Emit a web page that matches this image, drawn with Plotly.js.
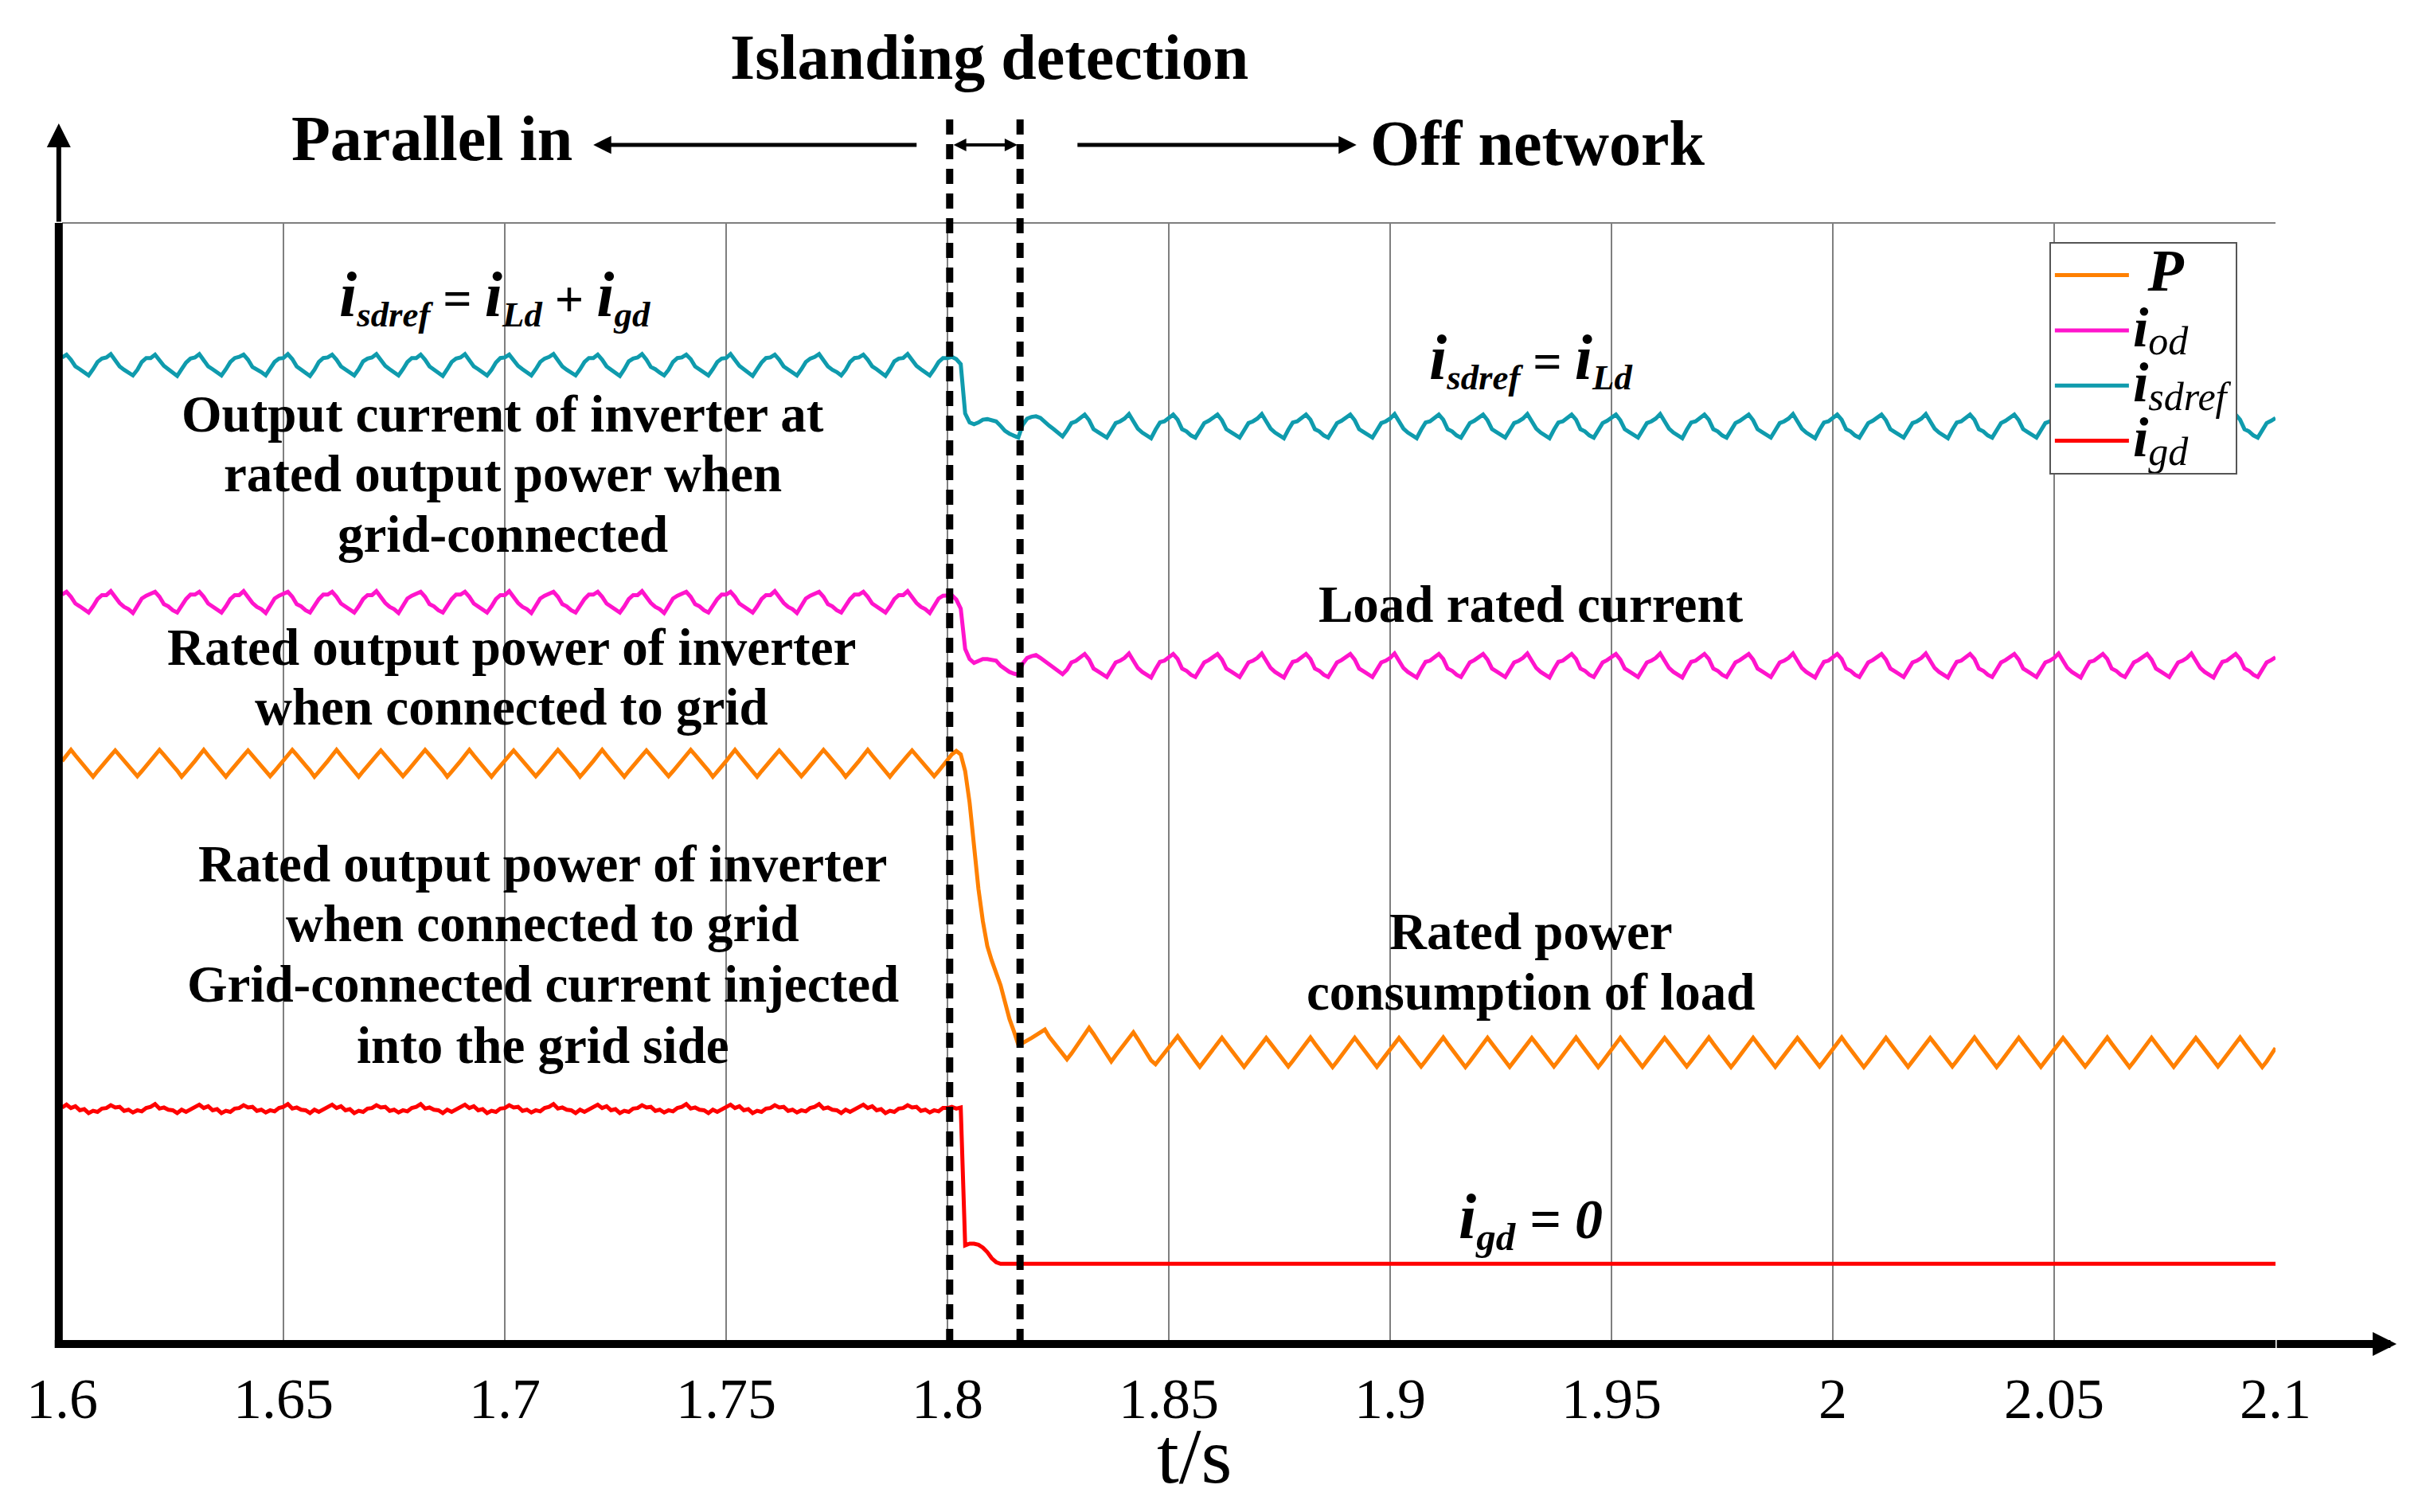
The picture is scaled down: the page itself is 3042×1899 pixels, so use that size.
<!DOCTYPE html>
<html>
<head>
<meta charset="utf-8">
<script src="https://cdn.plot.ly/plotly-3.0.1.min.js"></script>
<style>html,body{margin:0;padding:0;background:#fff;}#chart{width:3042px;height:1899px;}</style>
</head>
<body>
<div id="chart"></div>
<script>
// ---------- time grid ----------
const tStart = 1.6;      // s
const tStep = 0.001;     // s, sampling interval of the series below

// ---------- x-axis ticks ----------
const tickValues = [1.6, 1.65, 1.7, 1.75, 1.8, 1.85, 1.9, 1.95, 2, 2.05, 2.1];
const tickLabels = ['1.6', '1.65', '1.7', '1.75', '1.8', '1.85', '1.9', '1.95', '2', '2.05', '2.1'];

// ---------- event times ----------
const islandingStart = 1.8005;
const islandingEnd = 1.8164;

// ---------- series (one row = 10 ms) ----------
// isdref : 1.600 ... 2.100
const isdref = [
88.0,88.25,87.8,87.2,86.95,86.7,86.4,86.95,87.6,87.9,
88.0,88.3,87.75,87.2,86.9,86.65,86.4,86.9,87.6,87.95,
87.95,88.25,87.8,87.25,86.95,86.7,86.35,86.95,87.55,87.9,
88.0,88.3,87.8,87.2,86.95,86.65,86.4,86.95,87.6,87.95,
88.05,88.25,87.8,87.15,86.95,86.7,86.4,87.0,87.6,87.9,
87.95,88.3,87.85,87.2,86.9,86.7,86.35,86.9,87.6,87.95,
88.0,88.25,87.8,87.2,86.95,86.65,86.4,86.95,87.65,87.9,
88.0,88.3,87.75,87.25,86.95,86.7,86.4,86.95,87.6,87.95,
87.95,88.25,87.8,87.2,86.9,86.65,86.35,86.95,87.6,87.9,
88.0,88.3,87.8,87.2,86.95,86.7,86.4,86.9,87.55,87.95,
88.0,88.25,87.8,87.25,86.95,86.7,86.4,86.95,87.6,87.9,
88.05,88.3,87.75,87.2,86.9,86.65,86.4,86.95,87.6,87.95,
87.95,88.25,87.8,87.2,86.95,86.7,86.35,86.95,87.65,87.9,
88.0,88.3,87.8,87.15,86.95,86.65,86.4,86.9,87.6,87.95,
88.0,88.25,87.85,87.2,86.9,86.7,86.4,86.95,87.6,87.9,
87.95,88.3,87.8,87.25,86.95,86.7,86.35,86.95,87.55,87.95,
88.0,88.25,87.8,87.2,86.95,86.65,86.4,86.95,87.6,87.9,
88.05,88.3,87.75,87.2,86.9,86.7,86.4,86.9,87.6,87.95,
88.0,88.25,87.8,87.2,86.95,86.65,86.35,86.95,87.65,87.9,
87.95,88.3,87.8,87.25,86.95,86.7,86.4,86.95,87.6,87.95,
87.95,88.05,87.85,87.4,83.0,82.2,82.05,82.2,82.45,82.5,
82.4,82.3,81.9,81.45,81.2,81.0,80.85,82.0,82.55,82.7,
82.75,82.6,82.2,81.9,81.6,81.25,80.95,81.5,82.15,82.3,
82.6,82.9,82.4,81.6,81.35,81.05,80.85,81.5,82.15,82.3,
82.55,82.95,82.35,81.65,81.3,81.0,80.8,81.55,82.2,82.3,
82.65,82.9,82.45,81.6,81.4,81.05,80.85,81.45,82.15,82.35,
82.6,82.9,82.4,81.6,81.35,81.05,80.85,81.5,82.15,82.3,
82.55,82.95,82.35,81.65,81.3,81.0,80.8,81.55,82.2,82.3,
82.65,82.9,82.45,81.6,81.4,81.05,80.85,81.45,82.15,82.35,
82.6,82.9,82.4,81.6,81.35,81.05,80.85,81.5,82.15,82.3,
82.55,82.95,82.35,81.65,81.3,81.0,80.8,81.55,82.2,82.3,
82.65,82.9,82.45,81.6,81.4,81.05,80.85,81.45,82.15,82.35,
82.6,82.9,82.4,81.6,81.35,81.05,80.85,81.5,82.15,82.3,
82.55,82.95,82.35,81.65,81.3,81.0,80.8,81.55,82.2,82.3,
82.65,82.9,82.45,81.6,81.4,81.05,80.85,81.45,82.15,82.35,
82.6,82.9,82.4,81.6,81.35,81.05,80.85,81.5,82.15,82.3,
82.55,82.95,82.35,81.65,81.3,81.0,80.8,81.55,82.2,82.3,
82.65,82.9,82.45,81.6,81.4,81.05,80.85,81.45,82.15,82.35,
82.6,82.9,82.4,81.6,81.35,81.05,80.85,81.5,82.15,82.3,
82.55,82.95,82.35,81.65,81.3,81.0,80.8,81.55,82.2,82.3,
82.65,82.9,82.45,81.6,81.4,81.05,80.85,81.45,82.15,82.35,
82.6,82.9,82.4,81.6,81.35,81.05,80.85,81.5,82.15,82.3,
82.55,82.95,82.35,81.65,81.3,81.0,80.8,81.55,82.2,82.3,
82.65,82.9,82.45,81.6,81.4,81.05,80.85,81.45,82.15,82.35,
82.6,82.9,82.4,81.6,81.35,81.05,80.85,81.5,82.15,82.3,
82.55,82.95,82.35,81.65,81.3,81.0,80.8,81.55,82.2,82.3,
82.65,82.9,82.45,81.6,81.4,81.05,80.85,81.45,82.15,82.35,
82.6,82.9,82.4,81.6,81.35,81.05,80.85,81.5,82.15,82.3,
82.55,82.95,82.35,81.65,81.3,81.0,80.8,81.55,82.2,82.3,
82.65,82.9,82.45,81.6,81.4,81.05,80.85,81.45,82.15,82.35,
82.6
];

// iod : 1.600 ... 2.100
const iod = [
66.85,67.1,66.65,66.05,65.8,65.5,65.25,65.8,66.45,66.8,
66.8,67.15,66.6,66.1,65.75,65.55,65.2,65.8,66.5,66.75,
66.9,67.1,66.65,66.0,65.8,65.45,65.25,65.85,66.45,66.85,
66.85,67.1,66.65,66.05,65.8,65.5,65.25,65.8,66.45,66.8,
66.8,67.15,66.6,66.1,65.75,65.55,65.2,65.8,66.5,66.75,
66.9,67.1,66.65,66.0,65.8,65.45,65.25,65.85,66.45,66.85,
66.85,67.1,66.65,66.05,65.8,65.5,65.25,65.8,66.45,66.8,
66.8,67.15,66.6,66.1,65.75,65.55,65.2,65.8,66.5,66.75,
66.9,67.1,66.65,66.0,65.8,65.45,65.25,65.85,66.45,66.85,
66.85,67.1,66.65,66.05,65.8,65.5,65.25,65.8,66.45,66.8,
66.8,67.15,66.6,66.1,65.75,65.55,65.2,65.8,66.5,66.75,
66.9,67.1,66.65,66.0,65.8,65.45,65.25,65.85,66.45,66.85,
66.85,67.1,66.65,66.05,65.8,65.5,65.25,65.8,66.45,66.8,
66.8,67.15,66.6,66.1,65.75,65.55,65.2,65.8,66.5,66.75,
66.9,67.1,66.65,66.0,65.8,65.45,65.25,65.85,66.45,66.85,
66.85,67.1,66.65,66.05,65.8,65.5,65.25,65.8,66.45,66.8,
66.8,67.15,66.6,66.1,65.75,65.55,65.2,65.8,66.5,66.75,
66.9,67.1,66.65,66.0,65.8,65.45,65.25,65.85,66.45,66.85,
66.85,67.1,66.65,66.05,65.8,65.5,65.25,65.8,66.45,66.8,
66.8,67.15,66.6,66.1,65.75,65.55,65.2,65.8,66.5,66.75,
66.8,66.8,66.4,65.6,62.0,61.1,60.75,60.9,61.1,61.1,
61.0,60.95,60.5,60.2,59.95,59.8,59.7,60.7,61.2,61.35,
61.45,61.2,60.9,60.6,60.3,60.0,59.75,60.15,60.8,60.95,
61.25,61.55,61.05,60.25,60.0,59.7,59.5,60.15,60.8,60.95,
61.2,61.6,61.0,60.3,59.95,59.65,59.45,60.2,60.85,60.95,
61.3,61.55,61.1,60.25,60.05,59.7,59.5,60.1,60.8,61.0,
61.25,61.55,61.05,60.25,60.0,59.7,59.5,60.15,60.8,60.95,
61.2,61.6,61.0,60.3,59.95,59.65,59.45,60.2,60.85,60.95,
61.3,61.55,61.1,60.25,60.05,59.7,59.5,60.1,60.8,61.0,
61.25,61.55,61.05,60.25,60.0,59.7,59.5,60.15,60.8,60.95,
61.2,61.6,61.0,60.3,59.95,59.65,59.45,60.2,60.85,60.95,
61.3,61.55,61.1,60.25,60.05,59.7,59.5,60.1,60.8,61.0,
61.25,61.55,61.05,60.25,60.0,59.7,59.5,60.15,60.8,60.95,
61.2,61.6,61.0,60.3,59.95,59.65,59.45,60.2,60.85,60.95,
61.3,61.55,61.1,60.25,60.05,59.7,59.5,60.1,60.8,61.0,
61.25,61.55,61.05,60.25,60.0,59.7,59.5,60.15,60.8,60.95,
61.2,61.6,61.0,60.3,59.95,59.65,59.45,60.2,60.85,60.95,
61.3,61.55,61.1,60.25,60.05,59.7,59.5,60.1,60.8,61.0,
61.25,61.55,61.05,60.25,60.0,59.7,59.5,60.15,60.8,60.95,
61.2,61.6,61.0,60.3,59.95,59.65,59.45,60.2,60.85,60.95,
61.3,61.55,61.1,60.25,60.05,59.7,59.5,60.1,60.8,61.0,
61.25,61.55,61.05,60.25,60.0,59.7,59.5,60.15,60.8,60.95,
61.2,61.6,61.0,60.3,59.95,59.65,59.45,60.2,60.85,60.95,
61.3,61.55,61.1,60.25,60.05,59.7,59.5,60.1,60.8,61.0,
61.25,61.55,61.05,60.25,60.0,59.7,59.5,60.15,60.8,60.95,
61.2,61.6,61.0,60.3,59.95,59.65,59.45,60.2,60.85,60.95,
61.3,61.55,61.1,60.25,60.05,59.7,59.5,60.1,60.8,61.0,
61.25,61.55,61.05,60.25,60.0,59.7,59.5,60.15,60.8,60.95,
61.2,61.6,61.0,60.3,59.95,59.65,59.45,60.2,60.85,60.95,
61.3,61.55,61.1,60.25,60.05,59.7,59.5,60.1,60.8,61.0,
61.25
];

// P : 1.600 ... 2.100
const power = [
52.0,52.5,53.0,52.5,52.0,51.6,51.1,50.6,51.1,51.6,
52.05,52.5,52.95,52.5,52.05,51.55,51.1,50.65,51.1,51.55,
52.0,52.45,53.0,52.55,52.0,51.6,51.15,50.6,51.05,51.6,
52.0,52.5,53.0,52.5,52.0,51.6,51.1,50.6,51.1,51.6,
52.05,52.5,52.95,52.5,52.05,51.55,51.1,50.65,51.1,51.55,
52.0,52.45,53.0,52.55,52.0,51.6,51.15,50.6,51.05,51.6,
52.0,52.5,53.0,52.5,52.0,51.6,51.1,50.6,51.1,51.6,
52.05,52.5,52.95,52.5,52.05,51.55,51.1,50.65,51.1,51.55,
52.0,52.45,53.0,52.55,52.0,51.6,51.15,50.6,51.05,51.6,
52.0,52.5,53.0,52.5,52.0,51.6,51.1,50.6,51.1,51.6,
52.05,52.5,52.95,52.5,52.05,51.55,51.1,50.65,51.1,51.55,
52.0,52.45,53.0,52.55,52.0,51.6,51.15,50.6,51.05,51.6,
52.0,52.5,53.0,52.5,52.0,51.6,51.1,50.6,51.1,51.6,
52.05,52.5,52.95,52.5,52.05,51.55,51.1,50.65,51.1,51.55,
52.0,52.45,53.0,52.55,52.0,51.6,51.15,50.6,51.05,51.6,
52.0,52.5,53.0,52.5,52.0,51.6,51.1,50.6,51.1,51.6,
52.05,52.5,52.95,52.5,52.05,51.55,51.1,50.65,51.1,51.55,
52.0,52.45,53.0,52.55,52.0,51.6,51.15,50.6,51.05,51.6,
52.0,52.5,53.0,52.5,52.0,51.6,51.1,50.6,51.1,51.6,
52.05,52.5,52.95,52.5,52.05,51.55,51.1,50.65,51.1,51.55,
52.1,52.6,52.9,52.6,51.1,48.3,44.4,40.6,37.7,35.5,
34.2,33.1,32.0,30.5,29.0,27.9,26.7,26.85,27.05,27.3,
27.55,27.8,28.05,27.4,26.9,26.4,25.9,25.4,25.9,26.45,
27.0,27.6,28.2,27.65,27.0,26.35,25.75,25.2,25.75,26.3,
26.85,27.4,27.8,27.2,26.55,25.9,25.3,24.95,25.45,25.95,
26.5,27.0,27.45,26.9,26.4,25.8,25.25,24.72,25.24,25.76,
26.28,26.8,27.32,26.8,26.28,25.76,25.24,24.72,25.24,25.76,
26.3,26.8,27.3,26.8,26.3,25.75,25.25,24.75,25.25,25.75,
26.25,26.8,27.35,26.8,26.25,25.75,25.2,24.7,25.2,25.75,
26.28,26.8,27.32,26.8,26.28,25.76,25.24,24.72,25.24,25.76,
26.3,26.8,27.3,26.8,26.3,25.75,25.25,24.75,25.25,25.75,
26.25,26.8,27.35,26.8,26.25,25.75,25.2,24.7,25.2,25.75,
26.28,26.8,27.32,26.8,26.28,25.76,25.24,24.72,25.24,25.76,
26.3,26.8,27.3,26.8,26.3,25.75,25.25,24.75,25.25,25.75,
26.25,26.8,27.35,26.8,26.25,25.75,25.2,24.7,25.2,25.75,
26.28,26.8,27.32,26.8,26.28,25.76,25.24,24.72,25.24,25.76,
26.3,26.8,27.3,26.8,26.3,25.75,25.25,24.75,25.25,25.75,
26.25,26.8,27.35,26.8,26.25,25.75,25.2,24.7,25.2,25.75,
26.28,26.8,27.32,26.8,26.28,25.76,25.24,24.72,25.24,25.76,
26.3,26.8,27.3,26.8,26.3,25.75,25.25,24.75,25.25,25.75,
26.25,26.8,27.35,26.8,26.25,25.75,25.2,24.7,25.2,25.75,
26.28,26.8,27.32,26.8,26.28,25.76,25.24,24.72,25.24,25.76,
26.3,26.8,27.3,26.8,26.3,25.75,25.25,24.75,25.25,25.75,
26.25,26.8,27.35,26.8,26.25,25.75,25.2,24.7,25.2,25.75,
26.28,26.8,27.32,26.8,26.28,25.76,25.24,24.72,25.24,25.76,
26.3,26.8,27.3,26.8,26.3,25.75,25.25,24.75,25.25,25.75,
26.25,26.8,27.35,26.8,26.25,25.75,25.2,24.7,25.2,25.75,
26.28,26.8,27.32,26.8,26.28,25.76,25.24,24.72,25.24,25.76,
26.3,26.8,27.3,26.8,26.3,25.75,25.25,24.75,25.25,25.75,
26.25,26.8,27.35,26.8,26.25,25.75,25.2,24.7,25.2,25.75,
26.4
];

// igd : 1.600 ... 1.812 on the grid, then flat to the end time
const igd = [
21.1,21.35,21.05,21.2,20.85,20.95,20.6,20.8,20.7,21.0,
21.05,21.3,21.1,21.15,20.8,20.9,20.65,20.85,20.75,21.05,
21.15,21.4,21.0,21.1,20.9,20.85,20.6,20.9,20.7,20.95,
21.1,21.35,21.05,21.2,20.85,20.95,20.6,20.8,20.7,21.0,
21.05,21.3,21.1,21.15,20.8,20.9,20.65,20.85,20.75,21.05,
21.15,21.4,21.0,21.1,20.9,20.85,20.6,20.9,20.7,20.95,
21.1,21.35,21.05,21.2,20.85,20.95,20.6,20.8,20.7,21.0,
21.05,21.3,21.1,21.15,20.8,20.9,20.65,20.85,20.75,21.05,
21.15,21.4,21.0,21.1,20.9,20.85,20.6,20.9,20.7,20.95,
21.1,21.35,21.05,21.2,20.85,20.95,20.6,20.8,20.7,21.0,
21.05,21.3,21.1,21.15,20.8,20.9,20.65,20.85,20.75,21.05,
21.15,21.4,21.0,21.1,20.9,20.85,20.6,20.9,20.7,20.95,
21.1,21.35,21.05,21.2,20.85,20.95,20.6,20.8,20.7,21.0,
21.05,21.3,21.1,21.15,20.8,20.9,20.65,20.85,20.75,21.05,
21.15,21.4,21.0,21.1,20.9,20.85,20.6,20.9,20.7,20.95,
21.1,21.35,21.05,21.2,20.85,20.95,20.6,20.8,20.7,21.0,
21.05,21.3,21.1,21.15,20.8,20.9,20.65,20.85,20.75,21.05,
21.15,21.4,21.0,21.1,20.9,20.85,20.6,20.9,20.7,20.95,
21.1,21.35,21.05,21.2,20.85,20.95,20.6,20.8,20.7,21.0,
21.05,21.3,21.1,21.15,20.8,20.9,20.65,20.85,20.75,21.05,
21.05,21.15,21.0,21.1,8.8,8.95,8.95,8.85,8.6,8.2,
7.65,7.3,7.15
];
const igdEndTime = 2.1;
const igdEndValue = 7.15;

// ---------- build traces ----------
const gridTime = (arr) => arr.map((_, i) => +(tStart + i * tStep).toFixed(4));
const FONT = 'Liberation Serif, Times New Roman, serif';

const bigI = "<span style='font-size:70px'><b><i>i</i></b></span>";
const legSub = (s) => "<sub><span style='font-size:50px'><i>" + s + "</i></span></sub>";

const traces = [
  {name: "<span style='font-size:74px'><b><i> P</i></b></span>", x: gridTime(power), y: power, color: '#FF8000'},
  {name: bigI + legSub('od'), x: gridTime(iod), y: iod, color: '#FF14CC'},
  {name: bigI + legSub('sdref'), x: gridTime(isdref), y: isdref, color: '#0F9BAD'},
  {name: bigI + legSub('gd'), x: gridTime(igd).concat([igdEndTime]), y: igd.concat([igdEndValue]), color: '#FF0000'}
].map(s => ({
  type: 'scatter', mode: 'lines', name: s.name, x: s.x, y: s.y,
  line: {color: s.color, width: 5}, hoverinfo: 'skip'
}));

// ---------- annotations ----------
const txt = (text, x, y, size, extra) => Object.assign({
  text: text, x: x, y: y, xref: 'x', yref: 'y', showarrow: false,
  xanchor: 'center', yanchor: 'middle',
  font: {family: FONT, size: size, color: '#000'}
}, extra || {});

const eqI = (sub) => "<span style='font-size:80px'><b><i>i</i></b></span><sub><b><i>" + sub + '</i></b></sub>';

const annotations = [
  // top labels
  txt('<b>Islanding detection</b>', 1.8094, 1.148, 80, {yref: 'paper'}),
  txt('<b>Parallel in</b>', 1.6836, 1.075, 80, {yref: 'paper'}),
  txt('<b>Off network</b>', 1.9333, 1.071, 80, {yref: 'paper'}),
  // x-axis title
  txt('t/s', 1.8558, -0.1, 100, {yref: 'paper'}),
  // top arrows
  {x: 1.72, y: 1.0696, xref: 'x', yref: 'paper', ax: 1.7933, ay: 0, axref: 'x', ayref: 'pixel',
   text: '', showarrow: true, arrowhead: 2, arrowsize: 0.9, arrowwidth: 5, arrowcolor: '#000'},
  {x: 1.8924, y: 1.0696, xref: 'x', yref: 'paper', ax: 1.8291, ay: 0, axref: 'x', ayref: 'pixel',
   text: '', showarrow: true, arrowhead: 2, arrowsize: 0.9, arrowwidth: 5, arrowcolor: '#000'},
  {x: 1.8158, y: 1.0696, xref: 'x', yref: 'paper', ax: 1.8011, ay: 0, axref: 'x', ayref: 'pixel',
   text: '', showarrow: true, arrowhead: 2, startarrowhead: 2, arrowside: 'end+start',
   arrowsize: 0.8, startarrowsize: 0.8, arrowwidth: 4, arrowcolor: '#000'},
  // axis arrow heads
  {x: 1.0547, y: 0, xref: 'paper', yref: 'paper', ax: -152, ay: 0, axref: 'pixel', ayref: 'pixel',
   text: '', showarrow: true, arrowhead: 2, arrowsize: 0.6, arrowwidth: 10, arrowcolor: '#000'},
  {x: -0.0015, y: 1.0888, xref: 'paper', yref: 'paper', ax: 0, ay: 125, axref: 'pixel', ayref: 'pixel',
   text: '', showarrow: true, arrowhead: 2, arrowsize: 1, arrowwidth: 6, arrowcolor: '#000'},
  // left side notes
  txt(eqI('sdref') + '<b> = </b>' + eqI('Ld') + '<b> + </b>' + eqI('gd'), 1.6977, 93.4, 64),
  txt('<b>Output current of inverter at</b>', 1.6996, 82.95, 65),
  txt('<b>rated output power when</b>', 1.6996, 77.6, 65),
  txt('<b>grid-connected</b>', 1.6996, 72.2, 65),
  txt('<b>Rated output power of inverter</b>', 1.7016, 62.14, 65),
  txt('<b>when connected to grid</b>', 1.7016, 56.8, 65),
  txt('<b>Rated output power of inverter</b>', 1.7086, 42.86, 65),
  txt('<b>when connected to grid</b>', 1.7086, 37.49, 65),
  txt('<b>Grid-connected current injected</b>', 1.7086, 32.1, 65),
  txt('<b>into the grid side</b>', 1.7086, 26.6, 65),
  // right side notes
  txt(eqI('sdref') + '<b> = </b>' + eqI('Ld'), 1.9318, 87.78, 64),
  txt('<b>Load rated current</b>', 1.9319, 66.0, 65),
  txt('<b>Rated power</b>', 1.9318, 36.8, 65),
  txt('<b>consumption of load</b>', 1.9318, 31.4, 65),
  txt(eqI('gd') + '<b><i> = 0</i></b>', 1.9318, 11.03, 70)
];

// ---------- shapes ----------
const shapes = [
  // top frame line
  {type: 'line', xref: 'paper', yref: 'paper', x0: 0, x1: 1, y0: 1, y1: 1,
   line: {color: '#7F7F7F', width: 2}, layer: 'below'},
  // islanding detection window
  {type: 'line', xref: 'x', yref: 'paper', x0: islandingStart, x1: islandingStart, y0: 0, y1: 1.0938,
   line: {color: '#000', width: 9, dash: '19px,12px'}, layer: 'above'},
  {type: 'line', xref: 'x', yref: 'paper', x0: islandingEnd, x1: islandingEnd, y0: 0, y1: 1.0938,
   line: {color: '#000', width: 9, dash: '19px,12px'}, layer: 'above'},
  // thick axes
  {type: 'line', xref: 'paper', yref: 'paper', x0: -0.0033, x1: 1.0, y0: 0, y1: 0,
   line: {color: '#000', width: 10}, layer: 'above'},
  {type: 'line', xref: 'paper', yref: 'paper', x0: -0.0015, x1: -0.0015, y0: -0.0035, y1: 1.0,
   line: {color: '#000', width: 10}, layer: 'above'}
];

const layout = {
  width: 3042, height: 1899,
  margin: {l: 78, r: 184, t: 280, b: 211},
  paper_bgcolor: '#fff', plot_bgcolor: '#fff',
  showlegend: true,
  hovermode: false,
  xaxis: {
    range: [1.6, 2.1], tickmode: 'array', tickvals: tickValues, ticktext: tickLabels,
    showgrid: true, gridcolor: '#7F7F7F', gridwidth: 2, zeroline: false, showline: false,
    ticks: '', tickfont: {family: FONT, size: 72, color: '#000'},
    ticklabelstandoff: 20
  },
  yaxis: {
    range: [0, 100], showgrid: false, zeroline: false, showline: false,
    showticklabels: false, ticks: ''
  },
  legend: {
    x: 0.8978, y: 0.983, xanchor: 'left', yanchor: 'top',
    bgcolor: '#fff', bordercolor: '#555', borderwidth: 2,
    itemwidth: 93,
    font: {family: FONT, size: 51, color: '#000'}
  },
  annotations: annotations,
  shapes: shapes
};

Plotly.newPlot('chart', traces, layout, {staticPlot: true, displayModeBar: false});
</script>
</body>
</html>
